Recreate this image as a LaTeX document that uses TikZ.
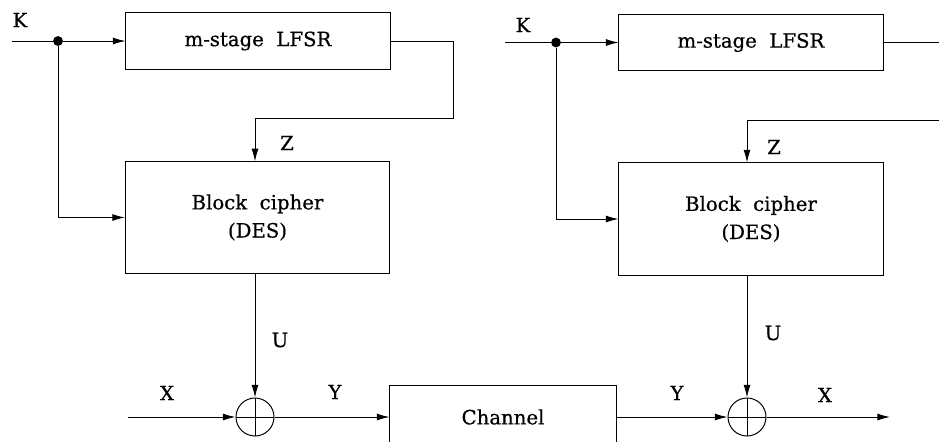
\documentclass[tikz,border=0pt]{standalone}
\usepackage{fontspec}
\setmainfont{DejaVu Serif}[FakeBold=0.6]
\usetikzlibrary{arrows.meta, positioning}

\begin{document}
\begin{tikzpicture}[x=0.025cm, y=-0.025cm, line width=0.7pt,
  every node/.style={font=\fontsize{14}{17}\selectfont},
  box/.style={draw, minimum width=6.6cm, inner sep=0pt},
  xorgate/.style={draw, circle, minimum size=0.95cm, inner sep=0pt,
    path picture={\draw (path picture bounding box.north) -- (path picture bounding box.south)
      (path picture bounding box.west) -- (path picture bounding box.east);}},
  arr/.style={-{Latex[length=9pt, width=5pt]}},
  dot/.style={circle, fill, inner sep=0pt, minimum size=7pt}]

% Frame of the picture (the channel runs off the bottom)
\useasboundingbox (0,0) rectangle (939,441);
\clip (0,0) rectangle (939,441);

% Encryption side
\node[box, minimum height=1.42cm] (lfsrL) at (258,41) {m-stage\ \ LFSR};
\node[box, minimum height=2.78cm, align=center] (blkL) at (257.5,217.5) {Block\ \ cipher\\[3pt](DES)};
\node[xorgate] (xorL) at (255,417) {};

% Decryption side
\node[box, minimum height=1.42cm] (lfsrR) at (751,42.5) {m-stage\ \ LFSR};
\node[box, minimum height=2.8cm, align=center] (blkR) at (751,219) {Block\ \ cipher\\[3pt](DES)};
\node[xorgate] (xorR) at (747,417) {};

% Channel
\node[draw, minimum width=5.65cm, minimum height=1.6cm] (chan) at (503,417) {Channel};

% Key inputs
\coordinate (kL) at (12,41);
\node[dot] (dotL) at (58,41) {};
\coordinate (kR) at (505,42.5);
\node[dot] (dotR) at (556,42.5) {};

\draw (kL) -- (dotL);
\draw[arr] (dotL) -- (lfsrL.west);
\draw[arr] (dotL) |- (blkL.west);
\draw (kR) -- (dotR);
\draw[arr] (dotR) -- (lfsrR.west);
\draw[arr] (dotR) |- (blkR.west);

% Keystream Z fed back into the block cipher
\coordinate (fbL) at (453,118);
\draw[arr] (lfsrL.east) -| (fbL) -| (xorL |- blkL.north);
\coordinate (fbR1) at (950,42.5);
\coordinate (fbR2) at (950,120);
\draw (lfsrR.east) -- (fbR1);
\draw[arr] (fbR2) -| (xorR |- blkR.north);

% Output U to the adders
\draw[arr] (xorL |- blkL.south) -- (xorL.north);
\draw[arr] (xorR |- blkR.south) -- (xorR.north);

% Data path X -> Y -> X
\coordinate (xin) at (128,417);
\coordinate (xout) at (890,417);
\draw[arr] (xin) -- (xorL.west);
\draw[arr] (xorL.east) -- (chan.west);
\draw[arr] (chan.east) -- (xorR.west);
\draw[arr] (xorR.east) -- (xout);

% Labels
\node (lblKL) at (20,20) {K};
\node (lblKR) at (523,25) {K};
\node (lblZL) at (287,143) {Z};
\node (lblZR) at (774,147) {Z};
\node (lblUL) at (280,340) {U};
\node (lblUR) at (773,333) {U};
\node (lblXin) at (167,393) {X};
\node (lblYL) at (335,392) {Y};
\node (lblYR) at (677,393) {Y};
\node (lblXout) at (825,395) {X};

\end{tikzpicture}
\end{document}
